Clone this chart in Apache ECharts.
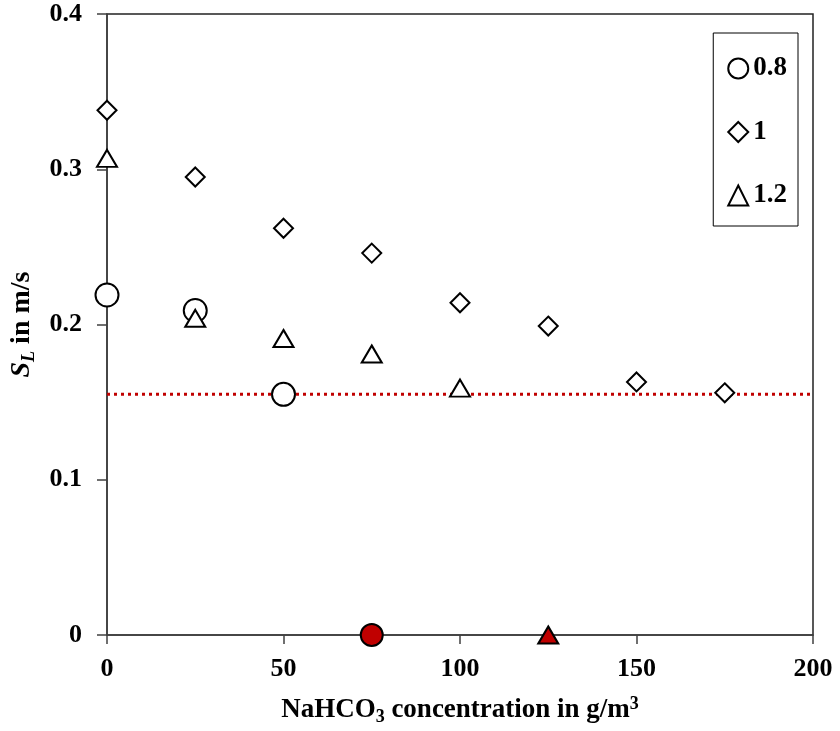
<!DOCTYPE html>
<html>
<head>
<meta charset="utf-8">
<script src="https://cdn.jsdelivr.net/npm/echarts@6/dist/echarts.min.js"></script>
<style>html,body{margin:0;padding:0;background:#fff}#c{width:840px;height:731px}</style>
</head>
<body>
<div id="c"></div>
<script>
const xCircle = [0, 25, 50];
const yCircle = [0.219, 0.209, 0.155];
const xDiamond = [0, 25, 50, 75, 100, 125, 150, 175];
const yDiamond = [0.338, 0.295, 0.262, 0.246, 0.214, 0.199, 0.163, 0.156];
const xTriangle = [0, 25, 50, 75, 100];
const yTriangle = [0.307, 0.204, 0.191, 0.181, 0.159];
const xRedCircle = [75];
const yRedCircle = [0];
const xRedTriangle = [125];
const yRedTriangle = [0];
const refLineX = [0, 200];
const refLineY = [0.155, 0.155];
const legendNames = ['0.8', '1', '1.2'];
const xTicks = [0, 50, 100, 150, 200];
const yTicks = [0, 0.1, 0.2, 0.3, 0.4];

const pairs = (xs, ys) => xs.map((x, i) => [x, ys[i]]);
const font = 'Liberation Serif';
const hollow = { color: '#ffffff', borderColor: '#000000', borderWidth: 2, opacity: 1 };
const redFill = { color: '#c00000', borderColor: '#000000', borderWidth: 2, opacity: 1 };

const chart = echarts.init(document.getElementById('c'), null, { renderer: 'canvas' });
chart.setOption({
  animation: false,
  backgroundColor: '#ffffff',
  grid: { left: 107, right: 27, top: 14, bottom: 94, show: true, borderColor: '#222222', borderWidth: 1.5, backgroundColor: 'transparent' },
  legend: {
    data: legendNames,
    orient: 'vertical',
    right: 42,
    top: 33,
    padding: [22, 11, 17, 14],
    itemGap: 36.5,
    itemWidth: 20,
    itemHeight: 20,
    borderColor: '#000000',
    borderWidth: 1,
    textStyle: { fontFamily: font, fontWeight: 'bold', fontSize: 27, lineHeight: 27, color: '#000' }
  },
  xAxis: {
    type: 'value', min: xTicks[0], max: xTicks[xTicks.length - 1], interval: 50,
    splitLine: { show: false },
    axisLine: { onZero: false, lineStyle: { color: '#404040', width: 1.5 } },
    axisTick: { length: 9, lineStyle: { color: '#404040', width: 1.5 } },
    axisLabel: { fontFamily: font, fontWeight: 'bold', fontSize: 26, color: '#000', margin: 21 },
    name: 'NaHCO{sub|3} concentration in g/m{sup|3}',
    nameLocation: 'middle', nameGap: 59,
    nameTextStyle: {
      fontFamily: font, fontWeight: 'bold', fontSize: 27, color: '#000',
      rich: {
        sub: { fontFamily: font, fontWeight: 'bold', fontSize: 18, color: '#000', padding: [14, 0, 0, 0] },
        sup: { fontFamily: font, fontWeight: 'bold', fontSize: 18, color: '#000', padding: [0, 0, 12, 0] }
      }
    }
  },
  yAxis: {
    type: 'value', min: yTicks[0], max: yTicks[yTicks.length - 1], interval: 0.1,
    splitLine: { show: false },
    axisLine: { lineStyle: { color: '#404040', width: 1.5 } },
    axisTick: { show: true, length: 10, lineStyle: { color: '#404040', width: 1.5 } },
    axisLabel: { fontFamily: font, fontWeight: 'bold', fontSize: 26, color: '#000', margin: 25 },
    name: '{i|S}{sub|L}{n| in m/s}',
    nameLocation: 'middle', nameGap: 69, nameRotate: 90,
    nameTextStyle: {
      fontFamily: font, fontWeight: 'bold', fontSize: 28, color: '#000',
      rich: {
        i: { fontFamily: font, fontWeight: 'bold', fontStyle: 'italic', fontSize: 28, color: '#000' },
        sub: { fontFamily: font, fontWeight: 'bold', fontStyle: 'italic', fontSize: 18, color: '#000', padding: [14, 0, 0, 0] },
        n: { fontFamily: font, fontWeight: 'bold', fontSize: 28, color: '#000' }
      }
    }
  },
  series: [
    {
      name: 'ref', type: 'line', data: pairs(refLineX, refLineY), symbol: 'none',
      lineStyle: { color: '#c00000', width: 3, type: [3, 4] }, z: 1, silent: true
    },
    {
      name: legendNames[0], type: 'scatter', data: pairs(xCircle, yCircle),
      symbol: 'circle', symbolSize: 23, itemStyle: hollow, z: 3
    },
    {
      name: legendNames[1], type: 'scatter', data: pairs(xDiamond, yDiamond),
      symbol: 'diamond', symbolSize: 19, itemStyle: hollow, z: 3
    },
    {
      name: legendNames[2], type: 'scatter', data: pairs(xTriangle, yTriangle),
      symbol: 'triangle', symbolSize: [20, 17], itemStyle: hollow, z: 4
    },
    {
      name: 'redCircle', type: 'scatter', data: pairs(xRedCircle, yRedCircle),
      symbol: 'circle', symbolSize: 22, itemStyle: redFill, z: 5
    },
    {
      name: 'redTriangle', type: 'scatter', data: pairs(xRedTriangle, yRedTriangle),
      symbol: 'triangle', symbolSize: [20, 17], itemStyle: redFill, z: 5
    }
  ]
});
</script>
</body>
</html>
